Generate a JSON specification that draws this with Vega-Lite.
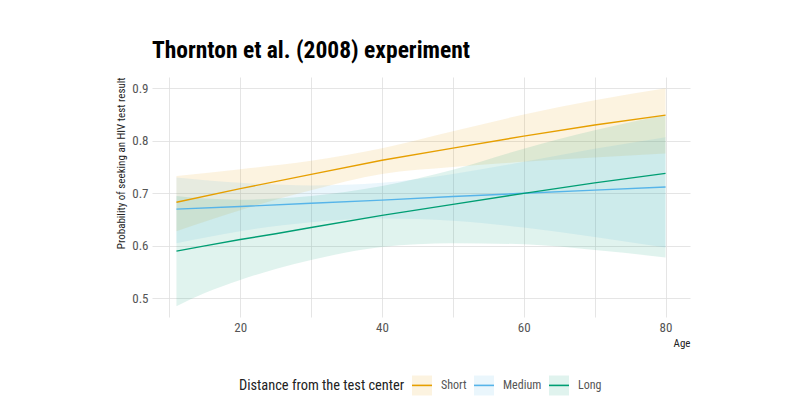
{
  "$schema": "https://vega.github.io/schema/vega-lite/v6.json",
  "width": 538,
  "height": 240,
  "autosize": "none",
  "padding": {"left": 152, "top": 77, "right": 110, "bottom": 101},
  "background": "white",
  "title": {
    "text": "Thornton et al. (2008) experiment",
    "anchor": "start",
    "frame": "group",
    "font": "Roboto Condensed",
    "fontSize": 23.5,
    "fontWeight": "bold",
    "color": "#000000",
    "baseline": "alphabetic",
    "offset": -4
  },
  "data": {
    "values": [
      {"distance": "Short", "age": 11, "fit": 0.683, "lower": 0.628, "upper": 0.733},
      {"distance": "Short", "age": 20, "fit": 0.709, "lower": 0.668, "upper": 0.746},
      {"distance": "Short", "age": 30, "fit": 0.736, "lower": 0.706, "upper": 0.762},
      {"distance": "Short", "age": 40, "fit": 0.763, "lower": 0.737, "upper": 0.786},
      {"distance": "Short", "age": 50, "fit": 0.786, "lower": 0.750, "upper": 0.818},
      {"distance": "Short", "age": 60, "fit": 0.809, "lower": 0.760, "upper": 0.850},
      {"distance": "Short", "age": 70, "fit": 0.830, "lower": 0.768, "upper": 0.877},
      {"distance": "Short", "age": 80, "fit": 0.849, "lower": 0.776, "upper": 0.900},
      {"distance": "Medium", "age": 11, "fit": 0.670, "lower": 0.605, "upper": 0.730},
      {"distance": "Medium", "age": 20, "fit": 0.675, "lower": 0.628, "upper": 0.720},
      {"distance": "Medium", "age": 30, "fit": 0.681, "lower": 0.645, "upper": 0.715},
      {"distance": "Medium", "age": 40, "fit": 0.687, "lower": 0.652, "upper": 0.720},
      {"distance": "Medium", "age": 50, "fit": 0.694, "lower": 0.648, "upper": 0.737},
      {"distance": "Medium", "age": 60, "fit": 0.700, "lower": 0.635, "upper": 0.760},
      {"distance": "Medium", "age": 70, "fit": 0.706, "lower": 0.617, "upper": 0.785},
      {"distance": "Medium", "age": 80, "fit": 0.712, "lower": 0.597, "upper": 0.807},
      {"distance": "Long", "age": 11, "fit": 0.590, "lower": 0.485, "upper": 0.695},
      {"distance": "Long", "age": 15, "fit": 0.600, "lower": 0.510, "upper": 0.690},
      {"distance": "Long", "age": 20, "fit": 0.612, "lower": 0.535, "upper": 0.688},
      {"distance": "Long", "age": 25, "fit": 0.623, "lower": 0.556, "upper": 0.690},
      {"distance": "Long", "age": 30, "fit": 0.635, "lower": 0.573, "upper": 0.695},
      {"distance": "Long", "age": 40, "fit": 0.658, "lower": 0.598, "upper": 0.714},
      {"distance": "Long", "age": 50, "fit": 0.679, "lower": 0.605, "upper": 0.745},
      {"distance": "Long", "age": 60, "fit": 0.700, "lower": 0.603, "upper": 0.785},
      {"distance": "Long", "age": 70, "fit": 0.720, "lower": 0.592, "upper": 0.820},
      {"distance": "Long", "age": 80, "fit": 0.738, "lower": 0.578, "upper": 0.849}
    ]
  },
  "encoding": {
    "x": {
      "field": "age",
      "type": "quantitative",
      "scale": {"domain": [7.55, 83.45], "nice": false, "zero": false},
      "axis": {
        "values": [10, 20, 30, 40, 50, 60, 70, 80],
        "labelExpr": "datum.value % 20 == 0 ? datum.label : ''",
        "title": "Age",
        "titleAnchor": "end",
        "titlePadding": 3,
        "labelPadding": 4
      }
    }
  },
  "layer": [
    {
      "mark": {"type": "area", "fillOpacity": 0.12, "interpolate": "monotone"},
      "encoding": {
        "y": {
          "field": "lower",
          "type": "quantitative",
          "scale": {"domain": [0.4645, 0.9215], "nice": false, "zero": false},
          "axis": {
            "values": [0.5, 0.55, 0.6, 0.65, 0.7, 0.75, 0.8, 0.85, 0.9],
            "labelExpr": "round(datum.value * 100) % 10 == 0 ? format(datum.value, '.1f') : ''",
            "title": "Probability of seeking an HIV test result",
            "titleAnchor": "end",
            "titlePadding": 5,
            "labelPadding": 4
          }
        },
        "y2": {"field": "upper"},
        "fill": {
          "field": "distance",
          "type": "nominal",
          "scale": {"domain": ["Short", "Medium", "Long"], "range": ["#E69F00", "#56B4E9", "#009E73"]},
          "legend": {
            "title": "Distance from the test center",
            "symbolType": "M-1,0H1V1H-1V-1H1V0",
            "symbolDash": [20, 200],
            "symbolStrokeWidth": 1.6,
            "encode": {"symbols": {"update": {"fillOpacity": {"value": 0.12}, "strokeOpacity": {"value": 1}, "opacity": {"value": 1}}}}
          }
        }
      }
    },
    {
      "mark": {"type": "line", "strokeWidth": 1.4},
      "encoding": {
        "y": {"field": "fit", "type": "quantitative"},
        "stroke": {
          "field": "distance",
          "type": "nominal",
          "scale": {"domain": ["Short", "Medium", "Long"], "range": ["#E69F00", "#56B4E9", "#009E73"]},
          "legend": {
            "title": "Distance from the test center",
            "symbolType": "M-1,0H1V1H-1V-1H1V0",
            "symbolDash": [20, 200],
            "symbolStrokeWidth": 1.6,
            "encode": {"symbols": {"update": {"fillOpacity": {"value": 0.12}, "strokeOpacity": {"value": 1}, "opacity": {"value": 1}}}}
          }
        }
      }
    }
  ],
  "config": {
    "view": {"stroke": null},
    "font": "Roboto Condensed",
    "axis": {
      "domain": false,
      "ticks": false,
      "grid": true,
      "gridColor": "#dedede",
      "gridWidth": 0.8,
      "labelFont": "Roboto Condensed",
      "labelFontSize": 13,
      "labelColor": "#555555",
      "titleFont": "Roboto Condensed",
      "titleFontSize": 11,
      "titleFontWeight": "normal",
      "titleColor": "#222222"
    },
    "legend": {
      "orient": "none",
      "legendX": 87,
      "legendY": 297,
      "direction": "horizontal",
      "titleOrient": "left",
      "titleFont": "Roboto Condensed",
      "titleFontSize": 14.4,
      "titleFontWeight": "normal",
      "titleColor": "#222222",
      "titleBaseline": "middle",
      "titleLimit": 400,
      "titlePadding": 6,
      "labelFont": "Roboto Condensed",
      "labelFontSize": 12,
      "labelColor": "#555555",
      "labelOffset": 8,
      "columnPadding": 3,
      "symbolSize": 400
    }
  }
}
